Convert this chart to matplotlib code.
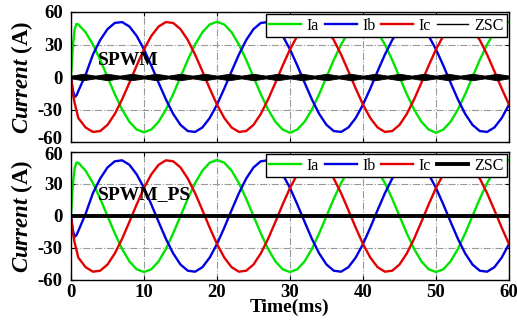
import matplotlib
matplotlib.use("Agg")
import matplotlib.pyplot as plt
import matplotlib.transforms as mtransforms

plt.rcParams['font.family'] = ['Liberation Serif', 'DejaVu Serif']
plt.rcParams['mathtext.fontset'] = 'custom'
plt.rcParams['mathtext.it'] = 'Liberation Serif:italic:bold'
plt.rcParams['mathtext.rm'] = 'Liberation Serif:bold'
plt.rcParams['mathtext.bf'] = 'Liberation Serif:bold'
plt.rcParams['axes.unicode_minus'] = False

# ---------------- data ----------------
t_ms = [0, 0.25, 0.5, 0.75] + list(range(1, 61))

# SPWM (top)
ia_top = [0, 28, 44, 49,
          48.5, 41.3, 30.0, 15.8, 0, -15.8, -30.0, -41.3, -48.5, -51, -48.5, -41.3, -30.0, -15.8, 0, 15.8, 30.0, 41.3, 48.5, 51,
          48.5, 41.3, 30.0, 15.8, 0, -15.8, -30.0, -41.3, -48.5, -51.5, -48.5, -41.3, -30.0, -15.8, 0, 15.8, 30.0, 41.3, 48.5, 51,
          48.5, 41.3, 30.0, 15.8, 0, -15.8, -30.0, -41.3, -48.5, -51.5, -48.5, -41.3, -30.0, -15.8, 0, 15.8, 30.0, 41.3, 48.5, 51]
ib_top = [0, -12, -18.5, -17,
          -13, 2, 20.7, 34.1, 44.2, 49.9, 50.7, 46.6, 37.9, 25.5, 10.6, -5.3, -20.7, -34.1, -44.2, -49.9, -50.7, -46.6, -37.9, -25.5,
          -10.6, 5.3, 20.7, 34.1, 44.2, 49.9, 50.7, 46.6, 37.9, 25.5, 10.6, -5.3, -20.7, -34.1, -44.2, -49.9, -50.7, -46.6, -37.9, -25.5,
          -10.6, 5.3, 20.7, 34.1, 44.2, 49.9, 50.7, 46.6, 37.9, 25.5, 10.6, -5.3, -20.7, -34.1, -44.2, -49.9, -50.7, -46.6, -37.9, -25.5]
ic_top = [0, -15, -24, -31,
          -37.9, -46.6, -50.7, -49.9, -44.2, -34.1, -20.7, -5.3, 10.6, 25.5, 37.9, 46.6, 50.7, 49.9, 44.2, 34.1, 20.7, 5.3, -10.6, -25.5,
          -37.9, -46.6, -50.7, -49.9, -44.2, -34.1, -20.7, -5.3, 10.6, 25.5, 37.9, 46.6, 50.7, 49.9, 44.2, 34.1, 20.7, 5.3, -10.6, -25.5,
          -37.9, -46.6, -50.7, -49.9, -44.2, -34.1, -20.7, -5.3, 10.6, 25.5, 37.9, 46.6, 50.7, 49.9, 44.2, 34.1, 20.7, 5.3, -10.6, -25.5]

# ZSC ripple envelope (half width) for SPWM
zsc_t = [0, 1.67, 3.33, 5, 6.67, 8.33, 10, 11.67, 13.33, 15, 16.67, 18.33, 20,
         21.67, 23.33, 25, 26.67, 28.33, 30, 31.67, 33.33, 35, 36.67, 38.33, 40,
         41.67, 43.33, 45, 46.67, 48.33, 50, 51.67, 53.33, 55, 56.67, 58.33, 60]
zsc_half = [1.3, 3.0, 1.3, 3.0, 1.3, 3.0, 1.3, 3.0, 1.3, 3.0, 1.3, 3.0, 1.3,
            3.0, 1.3, 3.0, 1.3, 3.0, 1.3, 3.0, 1.3, 3.0, 1.3, 3.0, 1.3,
            3.0, 1.3, 3.0, 1.3, 3.0, 1.3, 3.0, 1.3, 3.0, 1.3, 3.0, 1.3]

# SPWM_PS (bottom)
ia_bot = [0, 29, 45, 50,
          50.0, 42.5, 30.9, 16.2, 0, -16.2, -30.9, -42.5, -50.0, -52.5, -50.0, -42.5, -30.9, -16.2, 0, 16.2, 30.9, 42.5, 50.0, 52.5,
          50.0, 42.5, 30.9, 16.2, 0, -16.2, -30.9, -42.5, -50.0, -52.5, -50.0, -42.5, -30.9, -16.2, 0, 16.2, 30.9, 42.5, 50.0, 52.5,
          50.0, 42.5, 30.9, 16.2, 0, -16.2, -30.9, -42.5, -50.0, -52.5, -50.0, -42.5, -30.9, -16.2, 0, 16.2, 30.9, 42.5, 50.0, 52.5]
ib_bot = [0, -13, -19.5, -18,
          -14, 2, 21.4, 35.1, 45.5, 51.3, 52.2, 48.0, 39.0, 26.3, 10.9, -5.5, -21.4, -35.1, -45.5, -51.3, -52.2, -48.0, -39.0, -26.3,
          -10.9, 5.5, 21.4, 35.1, 45.5, 51.3, 52.2, 48.0, 39.0, 26.3, 10.9, -5.5, -21.4, -35.1, -45.5, -51.3, -52.2, -48.0, -39.0, -26.3,
          -10.9, 5.5, 21.4, 35.1, 45.5, 51.3, 52.2, 48.0, 39.0, 26.3, 10.9, -5.5, -21.4, -35.1, -45.5, -51.3, -52.2, -48.0, -39.0, -26.3]
ic_bot = [0, -15, -25, -32,
          -39.0, -48.0, -52.2, -51.3, -45.5, -35.1, -21.4, -5.5, 10.9, 26.3, 39.0, 48.0, 52.2, 51.3, 45.5, 35.1, 21.4, 5.5, -10.9, -26.3,
          -39.0, -48.0, -52.2, -51.3, -45.5, -35.1, -21.4, -5.5, 10.9, 26.3, 39.0, 48.0, 52.2, 51.3, 45.5, 35.1, 21.4, 5.5, -10.9, -26.3,
          -39.0, -48.0, -52.2, -51.3, -45.5, -35.1, -21.4, -5.5, 10.9, 26.3, 39.0, 48.0, 52.2, 51.3, 45.5, 35.1, 21.4, 5.5, -10.9, -26.3]
zsc_bot = [0, 0]
zsc_bot_t = [0, 60]

x_ticks = [0, 10, 20, 30, 40, 50, 60]
y_ticks = [-60, -30, 0, 30, 60]
series_names = ['Ia', 'Ib', 'Ic', 'ZSC']
panel_titles = ['SPWM', 'SPWM_PS']

GREEN, BLUE, RED = '#00e400', '#0000e0', '#e40000'

fig = plt.figure(figsize=(5.17, 3.20), dpi=100)
ax1 = fig.add_axes([71/517, 1-142/320, 438/517, 130/320])
ax2 = fig.add_axes([71/517, 1-280/320, 438/517, 128/320])


def style(ax, show_x):
    ax.set_xlim(0, 60)
    ax.set_ylim(-60, 60)
    ax.set_xticks(x_ticks)
    ax.set_yticks(y_ticks)
    ax.grid(True, color='#999999', linestyle='-.', linewidth=0.8)
    ax.set_axisbelow(True)
    ax.tick_params(direction='in', length=3, top=True, right=True, width=0.8,
                   labelsize=13.5)
    ax.tick_params(axis='y', pad=6)
    ax.tick_params(axis='x', pad=3)
    for lab in ax.get_xticklabels() + ax.get_yticklabels():
        lab.set_fontweight('bold')
    if not show_x:
        ax.tick_params(labelbottom=False)
    for s in ax.spines.values():
        s.set_linewidth(1.0)
    ax.set_ylabel(r'$\mathit{Current}$ (A)', fontsize=16.5, fontweight='bold', labelpad=2)


def shift_label(ax, index, dy_px):
    lab = ax.get_yticklabels()[index]
    off = mtransforms.ScaledTranslation(0, dy_px / 100.0, fig.dpi_scale_trans)
    lab.set_transform(lab.get_transform() + off)


# top
ax1.plot(t_ms, ia_top, color=GREEN, lw=1.7, label=series_names[0])
ax1.plot(t_ms, ib_top, color=BLUE, lw=1.7, label=series_names[1])
ax1.plot(t_ms, ic_top, color=RED, lw=1.7, label=series_names[2])
lo = [-h for h in zsc_half]
ax1.fill_between(zsc_t, lo, zsc_half, color='black', lw=0.6, edgecolor='black', zorder=3)
ax1.plot([], [], color='black', lw=1.0, label=series_names[3])
style(ax1, False)
ax1.text(3.7, 15, panel_titles[0], fontsize=14, fontweight='bold', va='center', ha='left', zorder=5)

# bottom
ax2.plot(t_ms, ia_bot, color=GREEN, lw=1.7, label=series_names[0])
ax2.plot(t_ms, ib_bot, color=BLUE, lw=1.7, label=series_names[1])
ax2.plot(t_ms, ic_bot, color=RED, lw=1.7, label=series_names[2])
ax2.plot(zsc_bot_t, zsc_bot, color='black', lw=2.8, label=series_names[3], zorder=3)
style(ax2, True)
ax2.text(3.7, 20, panel_titles[1], fontsize=14, fontweight='bold', va='center', ha='left', zorder=5)
ax2.set_xlabel('Time(ms)', fontsize=14, fontweight='bold', labelpad=-1.5)

shift_label(ax1, 0, 5)    # top "-60" sits a little above its tick
shift_label(ax2, 4, -2)   # bottom "60" sits a little below its tick

for ax in (ax1, ax2):
    leg = ax.legend(loc='upper right', ncol=4, fontsize=11.5, frameon=True, fancybox=False,
                    edgecolor='black', framealpha=1, borderaxespad=0.15, handlelength=2.0,
                    handletextpad=0.35, columnspacing=0.35, borderpad=0.2)
    leg.get_frame().set_linewidth(1.0)
    leg.set_zorder(10)

fig.savefig('out.png', dpi=100)
